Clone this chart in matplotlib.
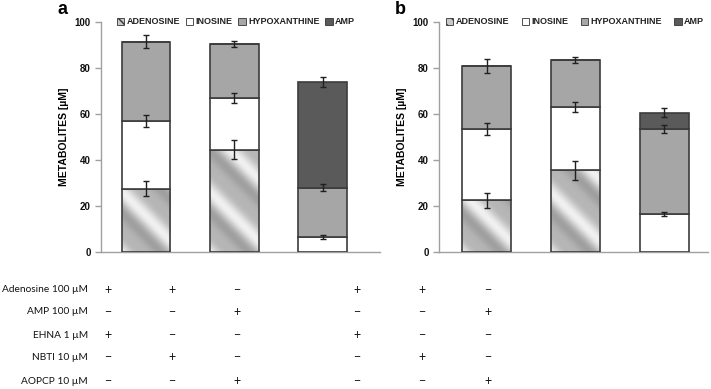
import numpy as np
import matplotlib.pyplot as plt
from matplotlib.patches import Patch

# stacked metabolite levels (uM), bottom -> top: adenosine, inosine, hypoxanthine, AMP
series = ['ADENOSINE', 'INOSINE', 'HYPOXANTHINE', 'AMP']

a_ado = [27.5, 44.5, 0.0]
a_ino = [29.5, 22.5, 6.5]
a_hyp = [34.5, 23.5, 21.5]
a_amp = [0.0, 0.0, 46.0]
a_err = [[3.3, 4.0, 0.0], [2.6, 2.2, 1.0], [3.0, 1.2, 1.4], [0.0, 0.0, 2.3]]

b_ado = [22.5, 35.5, 0.0]
b_ino = [31.0, 27.5, 16.5]
b_hyp = [27.5, 20.5, 37.0]
b_amp = [0.0, 0.0, 7.0]
b_err = [[3.3, 4.2, 0.0], [2.6, 2.3, 0.8], [3.0, 1.5, 1.6], [0.0, 0.0, 2.0]]

row_labels = ['Adenosine 100 \u00b5M', 'AMP 100 \u00b5M', 'EHNA 1 \u00b5M', 'NBTI 10 \u00b5M', 'AOPCP 10 \u00b5M']
signs = [['+', '+', '\u2212', '+', '+', '\u2212'],
         ['\u2212', '\u2212', '+', '\u2212', '\u2212', '+'],
         ['+', '\u2212', '\u2212', '+', '\u2212', '\u2212'],
         ['\u2212', '+', '\u2212', '\u2212', '+', '\u2212'],
         ['\u2212', '\u2212', '+', '\u2212', '\u2212', '+']]

W, H = 711, 389
plt.rcParams['font.family'] = ['Liberation Sans', 'DejaVu Sans']

hyp_col = '#a6a6a6'
amp_col = '#5a5a5a'
edge = '#3c3c3c'
axis_col = '#a0a0a0'


def metallic(ax, x, bottom, height, width, xscale):
    # diagonal metallic stripes used by the adenosine segments
    x0, x1 = x - width / 2, x + width / 2
    xs = np.linspace(x0, x1, 80)
    ys = np.linspace(bottom, bottom + height, 150)
    X, Y = np.meshgrid(xs, ys)
    t = (X - x0) * xscale + (Y - bottom) * 2.3
    val = 0.76 + 0.13 * np.cos(2 * np.pi * t / 62.0) + 0.06 * np.cos(2 * np.pi * t / 31.0 + 0.8)
    ax.imshow(val, extent=(x0, x1, bottom, bottom + height), origin='lower',
              cmap='gray', vmin=0, vmax=1, aspect='auto', zorder=2,
              interpolation='bilinear')


def panel(rect, xlim, ado, ino, hyp, amp, err, leg_x, label, label_x):
    ax = fig.add_axes(rect)
    x = np.arange(3)
    w = 0.55
    xscale = 88.5
    b1 = np.array(ado)
    b2 = b1 + np.array(ino)
    b3 = b2 + np.array(hyp)
    b4 = b3 + np.array(amp)
    for i in x:
        if ado[i] > 0:
            metallic(ax, i, 0, ado[i], w, xscale)
    ax.bar(x, ado, w, color='none', edgecolor=edge, lw=1.2, zorder=3)
    ax.bar(x, ino, w, bottom=b1, color='white', edgecolor=edge, lw=1.2, zorder=3)
    ax.bar(x, hyp, w, bottom=b2, color=hyp_col, edgecolor=edge, lw=1.2, zorder=3)
    ax.bar(x, amp, w, bottom=b3, color=amp_col, edgecolor=edge, lw=1.2, zorder=3)
    tops = [b1, b2, b3, b4]
    vals = [ado, ino, hyp, amp]
    for k in range(4):
        for i in x:
            if vals[k][i] > 0:
                ax.errorbar(i, tops[k][i], yerr=err[k][i], color='#202020',
                            lw=1.0, capsize=2.5, capthick=1.0, zorder=4)
    ax.set_xlim(*xlim)
    ax.set_ylim(0, 100)
    ax.set_yticks([0, 20, 40, 60, 80, 100])
    ax.set_xticks([])
    for s in ['top', 'right']:
        ax.spines[s].set_visible(False)
    for s in ['left', 'bottom']:
        ax.spines[s].set_color(axis_col)
        ax.spines[s].set_linewidth(1.0)
    ax.tick_params(axis='y', colors=axis_col, length=4, width=1.0, labelsize=7)
    for t in ax.get_yticklabels():
        t.set_color('#111111')
        t.set_fontweight('bold')
    ax.set_ylabel('METABOLITES [\u00b5M]', fontsize=7.5, fontweight='bold', labelpad=4)
    handles = [Patch(facecolor='#c8c8c8', edgecolor='#333333', hatch='\\\\\\', lw=0.6),
               Patch(facecolor='white', edgecolor='#333333', lw=0.6),
               Patch(facecolor=hyp_col, edgecolor='#333333', lw=0.6),
               Patch(facecolor=amp_col, edgecolor='#333333', lw=0.6)]
    leg = ax.legend(handles, series, ncol=4, loc='center', mode='expand',
                    bbox_to_anchor=(leg_x[0], 1.0, leg_x[1] - leg_x[0], 0.0),
                    frameon=False, prop={'size': 6.5, 'weight': 'bold'},
                    handlelength=0.8, handleheight=0.8,
                    handletextpad=0.25, columnspacing=0.4, borderaxespad=0, borderpad=0)
    for t in leg.get_texts():
        t.set_color('#222222')
    fig.text(label_x / W, 1 - 9 / H, label, fontsize=13, fontweight='bold',
             ha='center', va='center')
    return ax


fig = plt.figure(figsize=(W / 100, H / 100), dpi=100)
bottom = 1 - 252 / H
height = (252 - 22) / H
panel([101 / W, bottom, 279 / W, height], (-0.51, 2.65), a_ado, a_ino, a_hyp, a_amp, a_err,
      (0.057, 0.91), 'a', 63)
panel([439 / W, bottom, 269 / W, height], (-0.534, 2.49), b_ado, b_ino, b_hyp, b_amp, b_err,
      (0.026, 0.985), 'b', 400)

# treatment table under the panels
col_x = [108, 172, 237, 357, 422, 488]
row_y = [290, 312, 335, 357, 381]
tfont = ['Lato', 'DejaVu Sans']
for r, lab in enumerate(row_labels):
    fig.text(88 / W, 1 - row_y[r] / H, lab, ha='right', va='center', fontsize=7.3,
             family=tfont, color='#111111')
    for c, s in enumerate(signs[r]):
        fig.text(col_x[c] / W, 1 - row_y[r] / H, s, ha='center', va='center',
                 fontsize=9, family=tfont, color='#111111')

fig.savefig('out.png', dpi=100)
